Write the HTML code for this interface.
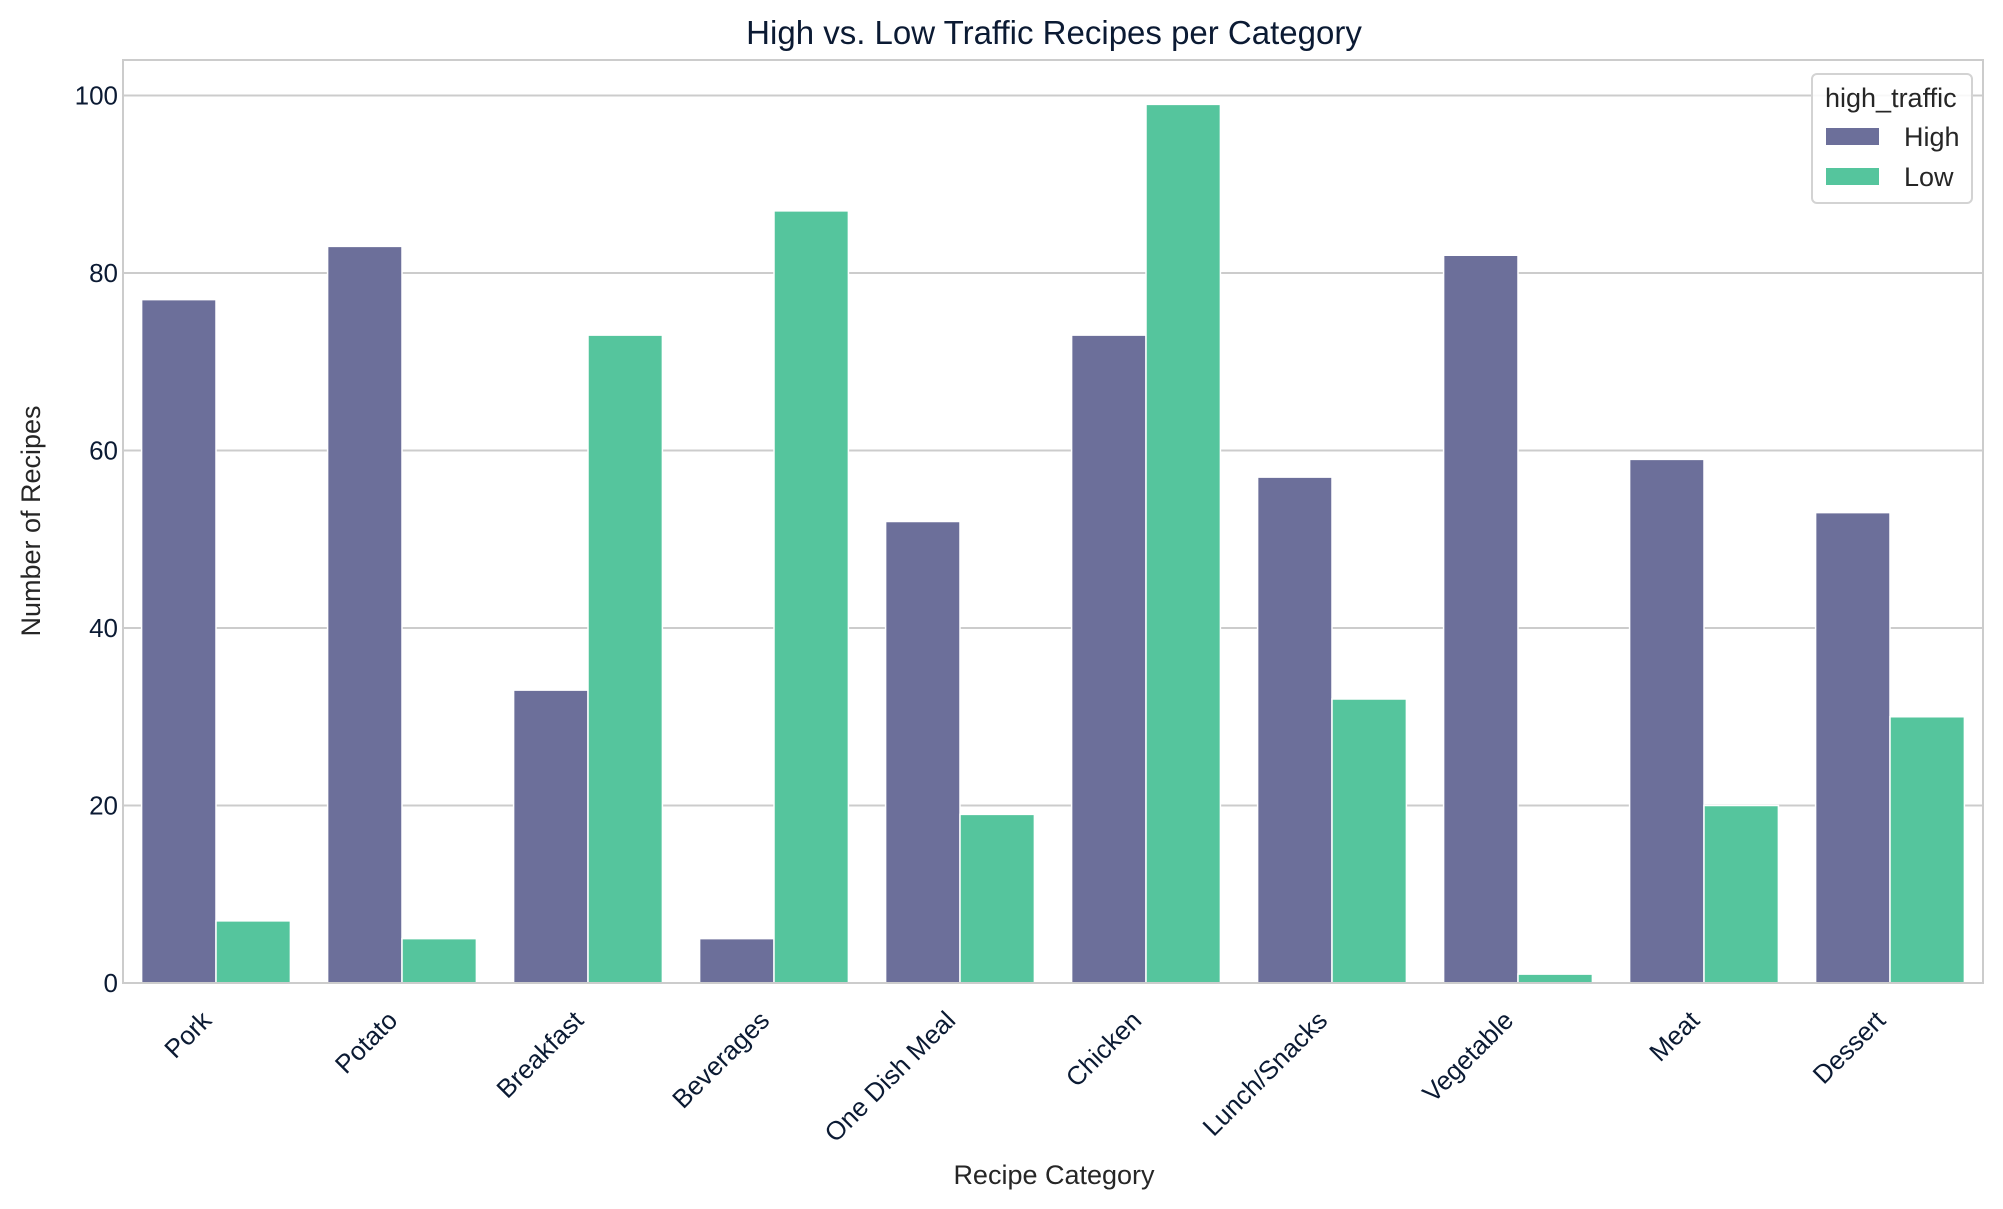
<!DOCTYPE html>
<html><head><meta charset="utf-8"><style>
html,body{margin:0;padding:0;background:#fff;}
svg{display:block;font-family:"Liberation Sans",Arial,sans-serif;}
</style></head><body>
<svg id="chart" width="2003" height="1209" viewBox="0 0 2003 1209">
<text x="1054" y="44" text-anchor="middle" font-size="33" fill="#0b1a33">High vs. Low Traffic Recipes per Category</text>
<g id="grid"></g>
<g id="bars"></g>
<rect x="123" y="60" width="1860" height="923" fill="none" stroke="#cccccc" stroke-width="2"/>
<g id="yticks"></g>
<g id="xticks"></g>
<text x="1054" y="1184" text-anchor="middle" font-size="27" fill="#262626">Recipe Category</text>
<text transform="translate(40,521) rotate(-90)" text-anchor="middle" font-size="27" fill="#262626">Number of Recipes</text>
<g>
<rect x="1812" y="74" width="160" height="129" rx="5" fill="#fff" fill-opacity="0.85" stroke="#d3d3d3" stroke-width="2"/>
<text x="1825" y="107" font-size="27" fill="#262626">high_traffic</text>
<rect x="1826" y="128" width="53" height="17" fill="#6c6f9a"/>
<text x="1904" y="146" font-size="27" fill="#262626">High</text>
<rect x="1826" y="168" width="53" height="17" fill="#55c59d"/>
<text x="1904" y="186" font-size="27" fill="#262626">Low</text>
</g>
</svg>
<script>
const categories = ["Pork","Potato","Breakfast","Beverages","One Dish Meal","Chicken","Lunch/Snacks","Vegetable","Meat","Dessert"];
const highValues = [77,83,33,5,52,73,57,82,59,53];
const lowValues = [7,5,73,87,19,99,32,1,20,30];
const yTicks = [0,20,40,60,80,100];

const NS="http://www.w3.org/2000/svg";
const L=123,R=1983,Y0=983,Y100=95.5;
const y=v=>Y0-(Y0-Y100)*v/100;
const band=(R-L)/categories.length;
const x=i=>L+band*(i+0.5);
function mk(tag,attrs,parent){const e=document.createElementNS(NS,tag);for(const k in attrs)e.setAttribute(k,attrs[k]);parent.appendChild(e);return e;}
const grid=document.getElementById('grid'),bars=document.getElementById('bars'),yt=document.getElementById('yticks'),xt=document.getElementById('xticks');
yTicks.forEach(t=>{
  const ln=mk('line',{x1:L,x2:R,y1:y(t),y2:y(t),stroke:'#cccccc','stroke-width':2},grid);
  
  
  const tx=mk('text',{x:L-5,y:y(t)+9,'text-anchor':'end','font-size':26,fill:'#0b1a33'},yt);
  tx.textContent=t;
  
  
});
const bw=band*0.4;
categories.forEach((c,i)=>{
  const cx=x(i);
  const b1=mk('rect',{x:cx-bw,y:y(highValues[i]),width:bw,height:Y0-y(highValues[i]),fill:'#6c6f9a',stroke:'#fff','stroke-width':1.5},bars);
  
  
  const b2=mk('rect',{x:cx,y:y(lowValues[i]),width:bw,height:Y0-y(lowValues[i]),fill:'#55c59d',stroke:'#fff','stroke-width':1.5},bars);
  
  
  const t=mk('text',{transform:`translate(${cx-3},1022) rotate(-45)`,'text-anchor':'end','font-size':26,fill:'#0b1a33'},xt);
  t.textContent=c;
  
  
});
</script>
</body></html>
